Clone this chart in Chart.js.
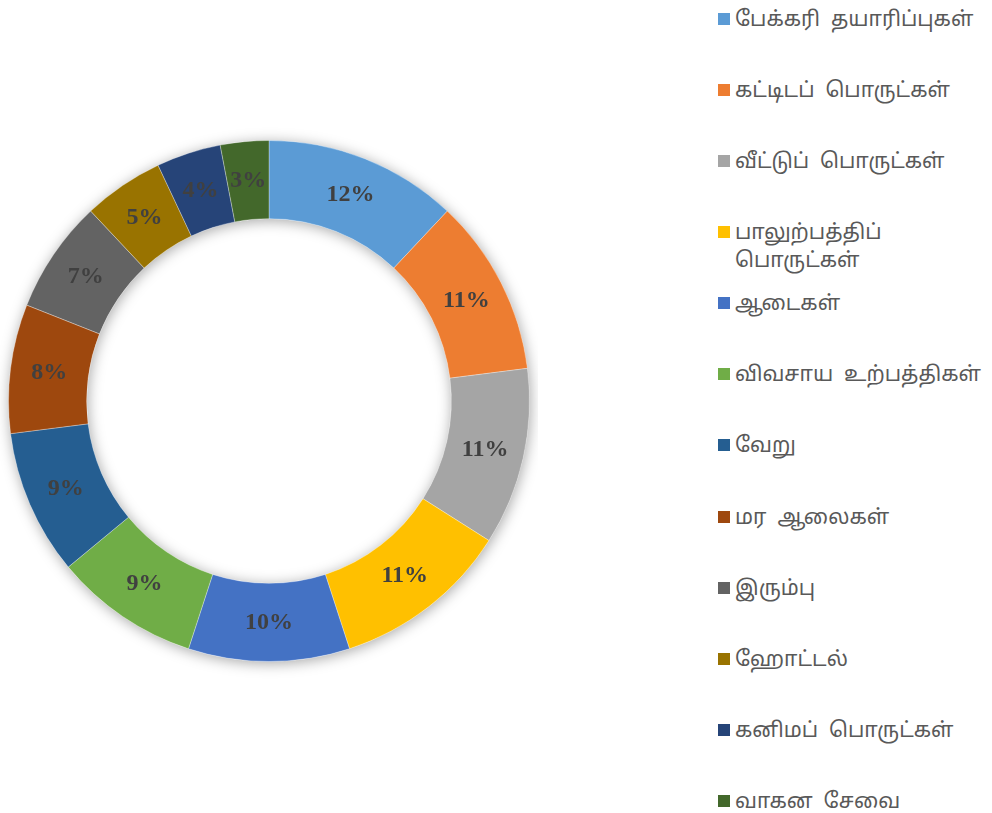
<!DOCTYPE html>
<html>
<head>
<meta charset="utf-8">
<script src="https://cdn.jsdelivr.net/npm/chart.js@4"></script>
<style>
  body { margin: 0; background: #fff; width: 992px; height: 813px; overflow: hidden; position: relative; }
  #wrap { position: absolute; left: 0; top: 0; width: 538px; height: 802px; }
  #legend { position: absolute; left: 718px; top: 0; font-family: 'Noto Sans', 'Noto Sans Tamil', 'Latha', sans-serif; font-size: 21px; color: #595959; }
  .item { position: absolute; left: 0; white-space: pre; line-height: 28px; }
  .box { position: absolute; left: 0; top: 9px; width: 12px; height: 12px; }
  .txt { position: absolute; left: 17px; top: 0; }
</style>
</head>
<body>
<div id="wrap"><canvas id="donut"></canvas></div>
<div id="legend"></div>
<script>
// வகைகள் (categories)
const categories = [
    'பேக்கரி  தயாரிப்புகள்',
    'கட்டிடப்  பொருட்கள்',
    'வீட்டுப்  பொருட்கள்',
    ['பாலுற்பத்திப்', 'பொருட்கள்'],
    'ஆடைகள்',
    'விவசாய  உற்பத்திகள்',
    'வேறு',
    'மர  ஆலைகள்',
    'இரும்பு',
    'ஹோட்டல்',
    'கனிமப்  பொருட்கள்',
    'வாகன  சேவை'
];
const percents = [12, 11, 11, 11, 10, 9, 9, 8, 7, 5, 4, 3];
const colors = ['#5B9BD5', '#ED7D31', '#A5A5A5', '#FFC000', '#4472C4', '#70AD47',
    '#255E91', '#9E480E', '#636363', '#997300', '#264478', '#43682B'];

// shadow under the ring
const ringShadow = {
    id: 'ringShadow',
    beforeDatasetsDraw(chart) {
        const arc = chart.getDatasetMeta(0).data[0];
        if (!arc) return;
        const ctx = chart.ctx;
        ctx.save();
        ctx.shadowColor = 'rgba(0,0,0,0.35)';
        ctx.shadowBlur = 14;
        ctx.shadowOffsetX = 1;
        ctx.shadowOffsetY = 2;
        ctx.fillStyle = '#fff';
        ctx.beginPath();
        ctx.arc(arc.x, arc.y, arc.outerRadius, 0, Math.PI * 2);
        ctx.arc(arc.x, arc.y, arc.innerRadius, Math.PI * 2, 0, true);
        ctx.fill('evenodd');
        ctx.restore();
    }
};

// etiquetas das fatias
const sliceLabels = {
    id: 'sliceLabels',
    afterDatasetsDraw(chart) {
        const ctx = chart.ctx;
        const meta = chart.getDatasetMeta(0);
        ctx.save();
        ctx.font = "bold 24px 'Liberation Serif', 'Times New Roman', serif";
        ctx.fillStyle = '#404040';
        ctx.textAlign = 'center';
        ctx.textBaseline = 'middle';
        meta.data.forEach((arc, i) => {
            const p = arc.tooltipPosition();
            ctx.fillText(percents[i] + '%', p.x, p.y);
        });
        ctx.restore();
    }
};

new Chart(document.getElementById('donut').getContext('2d'), {
    type: 'doughnut',
    data: {
        labels: categories,
        datasets: [{
            data: percents,
            backgroundColor: colors,
            borderColor: 'rgba(255,255,255,0.3)',
            borderWidth: 1
        }]
    },
    options: {
        responsive: true,
        maintainAspectRatio: false,
        animation: false,
        cutout: '70%',
        layout: { padding: 8 },
        plugins: {
            legend: { display: false },
            tooltip: { enabled: false }
        }
    },
    plugins: [ringShadow, sliceLabels]
});

// legenda em html
const legendTops = [4, 75, 146, 217, 288, 359, 430, 502, 573, 644, 715, 786];
const legend = document.getElementById('legend');
categories.forEach((c, i) => {
    const item = document.createElement('div');
    item.className = 'item';
    item.style.top = legendTops[i] + 'px';
    const box = document.createElement('div');
    box.className = 'box';
    box.style.background = colors[i];
    const txt = document.createElement('div');
    txt.className = 'txt';
    txt.textContent = Array.isArray(c) ? c.join('\n') : c;
    item.appendChild(box);
    item.appendChild(txt);
    legend.appendChild(item);
});
</script>
</body>
</html>
